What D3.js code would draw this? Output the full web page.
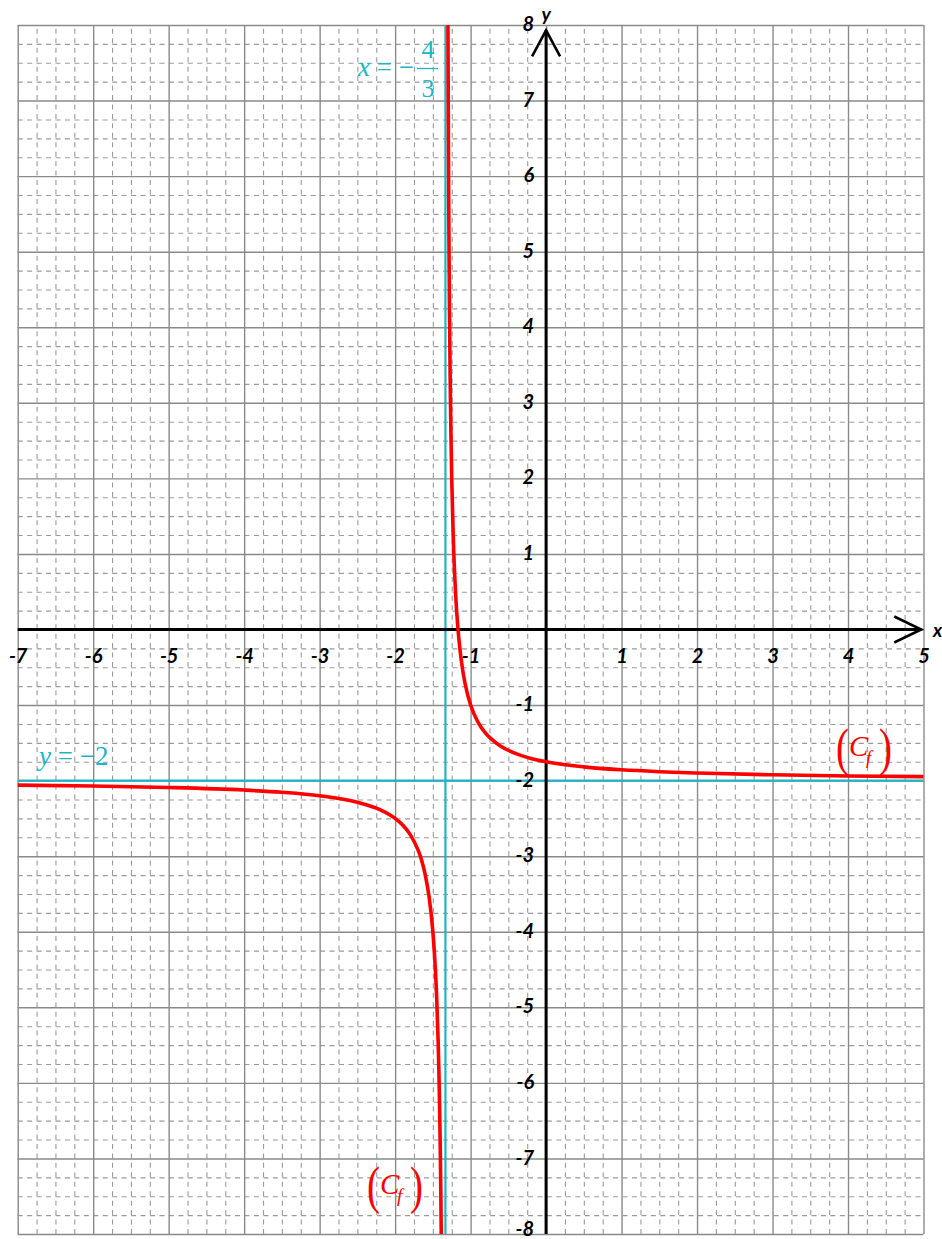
<!DOCTYPE html>
<html>
<head>
<meta charset="utf-8">
<script src="https://cdn.jsdelivr.net/npm/d3@7"></script>
<style>
  html, body { margin: 0; padding: 0; background: #fff; }
  svg { display: block; }
</style>
</head>
<body>
<svg id="chart" width="942" height="1239"></svg>
<script>
// ---- data ----
const xDomain = [-7, 5];
const yDomain = [-8, 8];
const xTicks = [-7, -6, -5, -4, -3, -2, -1, 1, 2, 3, 4, 5];
const yTicks = [-8, -7, -6, -5, -4, -3, -2, -1, 1, 2, 3, 4, 5, 6, 7, 8];
const asymptoteX = -1.3333;   // x = -4/3
const asymptoteY = -2;        // y = -2
// curve (Cf), right branch
const branchRight = [
  [-1.3, 8], [-1.295, 6.7], [-1.29, 5.69], [-1.285, 4.9], [-1.28, 4.25], [-1.27, 3.26],
  [-1.26, 2.55], [-1.25, 2], [-1.23, 1.23], [-1.2, 0.5], [-1.17, 0.04], [-1.15, -0.18],
  [-1.1, -0.57], [-1.05, -0.82], [-1, -1], [-0.9, -1.23], [-0.8, -1.375], [-0.7, -1.47],
  [-0.6, -1.545], [-0.4, -1.643], [-0.2, -1.706], [0, -1.75], [0.5, -1.818], [1, -1.857],
  [1.5, -1.882], [2, -1.9], [3, -1.923], [4, -1.938], [5, -1.947]
];
// curve (Cf), left branch
const branchLeft = [
  [-7, -2.059], [-6, -2.071], [-5, -2.091], [-4, -2.125], [-3.5, -2.154], [-3, -2.2],
  [-2.5, -2.286], [-2.2, -2.385], [-2, -2.5], [-1.9, -2.588], [-1.8, -2.714], [-1.7, -2.909],
  [-1.65, -3.05], [-1.6, -3.25], [-1.55, -3.538], [-1.5, -4], [-1.47, -4.44], [-1.45, -4.857],
  [-1.43, -5.45], [-1.42, -5.846], [-1.41, -6.35], [-1.4, -7], [-1.395, -7.41], [-1.389, -8]
];

// ---- layout ----
const svg = d3.select("#chart");
const x = d3.scaleLinear().domain(xDomain).range([17.7, 923.5]);
const y = d3.scaleLinear().domain(yDomain).range([1234, 25]);

const majorColor = "#8a8a8a";
const minorColor = "#9a9a9a";
const cyan = "#1cb6c6";
const red = "#ff0000";

// minor grid values
const minorX = d3.range(-7, 5.001, 0.25).filter(v => Math.abs(v - Math.round(v)) > 1e-6);
const minorY = d3.range(-8, 8.001, 0.25).filter(v => Math.abs(v - Math.round(v)) > 1e-6);
const majorX = d3.range(-7, 6, 1);
const majorY = d3.range(-8, 9, 1);

const grid = svg.append("g");
// minor dashed
grid.append("g").attr("transform", `translate(0,${y(-8)})`)
  .call(d3.axisBottom(x).tickValues(minorX).tickSize(-(y(-8) - y(8))).tickFormat(""))
  .call(g => g.select(".domain").remove())
  .call(g => g.selectAll("line").attr("stroke", minorColor).attr("stroke-width", 1.1).attr("stroke-dasharray", "5,4.45"));
grid.append("g").attr("transform", `translate(${x(-7)},0)`)
  .call(d3.axisLeft(y).tickValues(minorY).tickSize(-(x(5) - x(-7))).tickFormat(""))
  .call(g => g.select(".domain").remove())
  .call(g => g.selectAll("line").attr("stroke", minorColor).attr("stroke-width", 1.1).attr("stroke-dasharray", "5,4.45"));
// major solid
grid.append("g").attr("transform", `translate(0,${y(-8)})`)
  .call(d3.axisBottom(x).tickValues(majorX).tickSize(-(y(-8) - y(8))).tickFormat(""))
  .call(g => g.select(".domain").remove())
  .call(g => g.selectAll("line").attr("stroke", majorColor).attr("stroke-width", 1.4));
grid.append("g").attr("transform", `translate(${x(-7)},0)`)
  .call(d3.axisLeft(y).tickValues(majorY).tickSize(-(x(5) - x(-7))).tickFormat(""))
  .call(g => g.select(".domain").remove())
  .call(g => g.selectAll("line").attr("stroke", majorColor).attr("stroke-width", 1.4));

// clip
svg.append("clipPath").attr("id", "clip").append("rect")
  .attr("x", x(-7)).attr("y", y(8)).attr("width", x(5) - x(-7)).attr("height", y(-8) - y(8));

// asymptotes
svg.append("line").attr("x1", x(asymptoteX)).attr("x2", x(asymptoteX)).attr("y1", y(8)).attr("y2", y(-8))
  .attr("stroke", cyan).attr("stroke-width", 2.2);
svg.append("line").attr("x1", x(-7)).attr("x2", x(5)).attr("y1", y(asymptoteY)).attr("y2", y(asymptoteY))
  .attr("stroke", cyan).attr("stroke-width", 2.2);

// axes lines
const axisG = svg.append("g").attr("stroke", "#000").attr("fill", "none");
axisG.append("line").attr("x1", x(-7)).attr("x2", x(4.97)).attr("y1", y(0)).attr("y2", y(0)).attr("stroke-width", 3);
axisG.append("line").attr("x1", x(0)).attr("x2", x(0)).attr("y1", y(-8)).attr("y2", y(7.93)).attr("stroke-width", 3);
// arrowheads
axisG.append("path").attr("stroke-width", 2.6).attr("stroke-linejoin", "miter")
  .attr("d", `M${x(4.97) - 27},${y(0) - 13} L${x(4.97)},${y(0)} L${x(4.97) - 27},${y(0) + 13}`);
axisG.append("path").attr("stroke-width", 2.6).attr("stroke-linejoin", "miter")
  .attr("d", `M${x(0) - 14},${y(7.93) + 26} L${x(0)},${y(7.93)} L${x(0) + 14},${y(7.93) + 26}`);

// curve
const line = d3.line().x(d => x(d[0])).y(d => y(d[1])).curve(d3.curveMonotoneX);
const curveG = svg.append("g").attr("clip-path", "url(#clip)");
[branchLeft, branchRight].forEach(b => {
  curveG.append("path").datum(b).attr("d", line)
    .attr("fill", "none").attr("stroke", red).attr("stroke-width", 3.6).attr("stroke-linecap", "round");
});

// tick labels via axes (hyphen-minus as in reference)
const fmt = d => String(d);
const tickFont = "Lato, 'DejaVu Sans', sans-serif";
svg.append("g").attr("transform", `translate(0,${y(0)})`)
  .call(d3.axisBottom(x).tickValues(xTicks).tickSize(0).tickPadding(19).tickFormat(fmt))
  .call(g => g.select(".domain").remove())
  .call(g => g.selectAll("text").attr("font-family", tickFont).attr("font-style", "italic")
    .attr("font-weight", 700).attr("font-size", 20).attr("fill", "#000").attr("dy", "0.71em"));
svg.append("g").attr("transform", `translate(${x(0)},0)`)
  .call(d3.axisLeft(y).tickValues(yTicks).tickSize(0).tickPadding(12).tickFormat(fmt))
  .call(g => g.select(".domain").remove())
  .call(g => g.selectAll("text").attr("font-family", tickFont).attr("font-style", "italic")
    .attr("font-weight", 700).attr("font-size", 20).attr("fill", "#000")
    .attr("dy", d => d === -8 ? "0.05em" : "0.28em"));

// axis names
svg.append("text").attr("x", x(0) + 0).attr("y", 21).attr("text-anchor", "middle")
  .attr("font-family", tickFont).attr("font-style", "italic").attr("font-weight", 700).attr("font-size", 19).text("y");
svg.append("text").attr("x", 933).attr("y", y(0) + 7)
  .attr("font-family", tickFont).attr("font-style", "italic").attr("font-weight", 700).attr("font-size", 19).text("x");

// asymptote labels
const lbl = svg.append("g").attr("fill", cyan).attr("font-family", "'Liberation Serif', serif");
lbl.append("text").attr("x", 358).attr("y", 76).attr("font-size", 27)
  .html('<tspan font-style="italic">x</tspan> = −');
lbl.append("text").attr("x", 428).attr("y", 58).attr("text-anchor", "middle").attr("font-size", 26).text("4");
lbl.append("line").attr("x1", 417).attr("x2", 438).attr("y1", 68.5).attr("y2", 68.5).attr("stroke", cyan).attr("stroke-width", 1.3);
lbl.append("text").attr("x", 428).attr("y", 97).attr("text-anchor", "middle").attr("font-size", 26).text("3");
lbl.append("text").attr("x", 39).attr("y", 765).attr("font-size", 27)
  .html('<tspan font-style="italic">y</tspan> = −2');

// Cf labels
function cfLabel(x0, y0) {
  const g = svg.append("g").attr("fill", red).attr("font-family", "'Liberation Serif', serif");
  g.append("text").attr("x", x0).attr("y", y0 + 36).attr("font-size", 52)
    .attr("transform", `translate(${x0},0) scale(0.75,1) translate(${-x0},0)`).text("(");
  g.append("text").attr("x", x0 + 13).attr("y", y0 + 27).attr("font-size", 29).attr("font-style", "italic").text("C");
  g.append("text").attr("x", x0 + 30).attr("y", y0 + 35).attr("font-size", 19).attr("font-style", "italic").text("f");
  g.append("text").attr("x", x0 + 43).attr("y", y0 + 36).attr("font-size", 52)
    .attr("transform", `translate(${x0 + 43},0) scale(0.75,1) translate(${-(x0 + 43)},0)`).text(")");
}
cfLabel(836, 729);
cfLabel(367, 1167);
</script>
</body>
</html>
